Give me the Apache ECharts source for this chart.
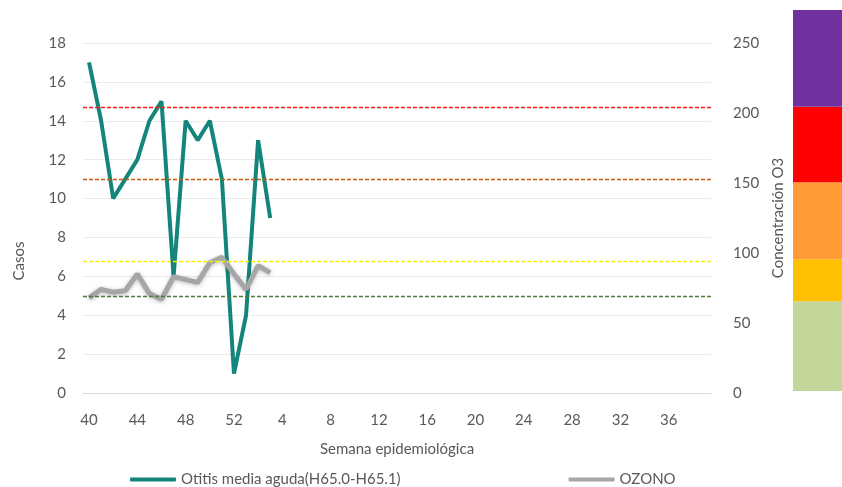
<!DOCTYPE html>
<html>
<head>
<meta charset="utf-8">
<script src="https://cdn.jsdelivr.net/npm/echarts@6/dist/echarts.min.js"></script>
<style>
  html, body { margin: 0; padding: 0; background: #ffffff; }
  #main { width: 842px; height: 487px; }
</style>
</head>
<body>
<div id="main"></div>
<script>
// semanas epidemiologicas 40..52 y 1..39
var semanas = [];
for (var w = 40; w <= 52; w++) semanas.push(String(w));
for (var w2 = 1; w2 <= 39; w2++) semanas.push(String(w2));

var otitis = [17, 14, 10, 11, 12, 14, 15, 6, 14, 13, 14, 11, 1, 4, 13, 9];
var ozono = [68, 74, 72, 73, 85, 71, 67, 83, 81, 79, 93, 97, 85, 74, 91, 86];

// limites de concentracion (lineas punteadas)
var limites = [69, 94, 153, 204];
var limColores = ['#4f7a3a', '#f2f200', '#c55a11', '#ff1a1a'];

// escala de colores a la derecha
var bandas = [64, 30, 55, 54, 69];
var bandColores = ['#c4d79b', '#ffc000', '#ff9a37', '#ff0000', '#7030a0'];

var myChart = echarts.init(document.getElementById('main'));

var fuente = 'Lato';
var gris = '#595959';

// una serie vacia por cada limite, solo con su markLine
var limSeries = limites.map(function(v, i) {
    return {
        type: 'line',
        yAxisIndex: 1,
        data: [],
        silent: true,
        z: 2,
        markLine: {
            silent: true,
            symbol: 'none',
            label: { show: false },
            lineStyle: { color: limColores[i], type: [4, 2], width: 1.3 },
            data: [{ yAxis: v }]
        }
    };
});

var bandSeries = bandas.map(function(v, i) {
    return {
        type: 'bar',
        xAxisIndex: 1,
        yAxisIndex: 2,
        stack: 'escala',
        barWidth: '100%',
        silent: true,
        itemStyle: { color: bandColores[i] },
        data: [v]
    };
});

var option = {
    animation: false,
    textStyle: { fontFamily: fuente },
    grid: [
        { left: 83, right: 131, top: 43, bottom: 94 },
        { left: 793, right: 0, top: 10, bottom: 96 }
    ],
    legend: {
        left: 125,
        top: 467,
        itemGap: 168,
        itemWidth: 46,
        itemHeight: 4,
        textStyle: { color: gris, fontSize: 15, fontFamily: fuente },
        data: [
            { name: 'Otitis media aguda(H65.0-H65.1)', icon: 'roundRect' },
            { name: 'OZONO', icon: 'roundRect' }
        ]
    },
    xAxis: [{
        type: 'category',
        gridIndex: 0,
        data: semanas,
        boundaryGap: true,
        name: 'Semana epidemiológica',
        nameLocation: 'middle',
        nameGap: 49,
        nameTextStyle: { color: gris, fontSize: 15 },
        axisLine: { lineStyle: { color: '#d9d9d9' } },
        axisTick: { show: false },
        axisLabel: { interval: 3, color: gris, fontSize: 15, margin: 20 }
    }, {
        type: 'category',
        gridIndex: 1,
        data: [''],
        show: false
    }],
    yAxis: [{
        type: 'value',
        gridIndex: 0,
        min: 0,
        max: 18,
        interval: 2,
        name: 'Casos',
        nameLocation: 'middle',
        nameGap: 56,
        nameTextStyle: { color: gris, fontSize: 15, padding: [0, 86, 0, 0] },
        axisLine: { show: false },
        axisTick: { show: false },
        axisLabel: { color: gris, fontSize: 15, margin: 17 },
        splitLine: { lineStyle: { color: '#ebebeb' } }
    }, {
        type: 'value',
        gridIndex: 0,
        position: 'right',
        min: 0,
        max: 250,
        interval: 50,
        name: 'Concentración O3',
        nameLocation: 'middle',
        nameGap: 60,
        nameTextStyle: { color: gris, fontSize: 15 },
        axisLine: { show: false },
        axisTick: { show: false },
        axisLabel: { color: gris, fontSize: 15, margin: 22 },
        splitLine: { show: false }
    }, {
        type: 'value',
        gridIndex: 1,
        min: 0,
        max: 272,
        show: false
    }],
    series: [{
        name: 'Otitis media aguda(H65.0-H65.1)',
        type: 'line',
        data: otitis,
        symbol: 'none',
        z: 3,
        itemStyle: { color: '#14857a' },
        lineStyle: { color: '#14857a', width: 4 }
    }, {
        name: 'OZONO',
        type: 'line',
        yAxisIndex: 1,
        data: ozono,
        symbol: 'none',
        z: 4,
        itemStyle: { color: '#a6a6a6' },
        lineStyle: {
            color: '#a6a6a6',
            width: 5,
            shadowColor: 'rgba(0,0,0,0.25)',
            shadowBlur: 4,
            shadowOffsetY: 1
        }
    }].concat(limSeries, bandSeries)
};

myChart.setOption(option);
</script>
</body>
</html>
